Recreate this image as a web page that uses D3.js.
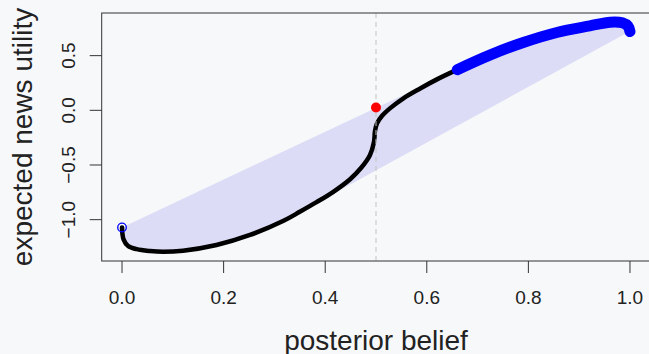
<!DOCTYPE html>
<html>
<head>
<meta charset="utf-8">
<script src="https://cdn.jsdelivr.net/npm/d3@7"></script>
<style>
  html, body { margin: 0; padding: 0; background: #f7f8fa; }
  svg { display: block; font-family: "Liberation Sans", Arial, Helvetica, sans-serif; }
</style>
</head>
<body>
<svg id="chart"></svg>
<script>
// posterior belief (x) and expected news utility (y)
const belief  = [0, 0.003, 0.012, 0.029, 0.055, 0.081, 0.12, 0.186, 0.252, 0.318, 0.35, 0.383, 0.416, 0.449, 0.47, 0.488, 0.496, 0.498, 0.502, 0.512, 0.528, 0.554, 0.587, 0.62, 0.66, 0.724, 0.79, 0.856, 0.921, 0.961, 0.985, 0.996, 1.0];
const utility = [-1.071, -1.18, -1.24, -1.27, -1.287, -1.294, -1.284, -1.232, -1.14, -1.01, -0.928, -0.84, -0.745, -0.63, -0.53, -0.41, -0.29, -0.19, -0.12, -0.05, 0.02, 0.11, 0.2, 0.283, 0.372, 0.505, 0.62, 0.712, 0.772, 0.806, 0.8, 0.77, 0.72];

const prior = 0.5;
const priorValue = 0.025;
const blueFrom = 0.66;

const xTicks = [0, 0.2, 0.4, 0.6, 0.8, 1.0];
const yTicks = [-1.0, -0.5, 0.0, 0.5];

const W = 649, H = 354;
const plot = { left: 101.7, right: 650.3, top: 13, bottom: 261 };

const svg = d3.select("#chart").attr("width", W).attr("height", H);

// R style 4% padding on the data range
function pad(ext) {
  const d = (ext[1] - ext[0]) * 0.04;
  return [ext[0] - d, ext[1] + d];
}

const x = d3.scaleLinear().domain(pad(d3.extent(belief))).range([plot.left, plot.right]);
const y = d3.scaleLinear().domain(pad(d3.extent(utility))).range([plot.bottom, plot.top]);

const pts = belief.map((b, i) => [b, utility[i]]);

const line = d3.line()
  .x(d => x(d[0]))
  .y(d => y(d[1]))
  .curve(d3.curveCatmullRom.alpha(0.5));

// sample the smoothed curve so the hull follows it
const tmp = svg.append("path").attr("d", line(pts)).attr("fill", "none");
const node = tmp.node();
const len = node.getTotalLength();
const dense = [];
for (let s = 0; s <= len; s += 1) {
  const p = node.getPointAtLength(s);
  dense.push([p.x, p.y]);
}
tmp.remove();

const hull = d3.polygonHull(dense);

const g = svg.append("g");

g.append("path")
  .attr("d", "M" + hull.join("L") + "Z")
  .attr("fill", "#dcdcf6")
  .attr("stroke", "none");

g.append("path")
  .attr("d", line(pts))
  .attr("fill", "none")
  .attr("stroke", "#000")
  .attr("stroke-width", 4.5)
  .attr("stroke-linecap", "round")
  .attr("stroke-linejoin", "round");

g.append("line")
  .attr("x1", x(prior)).attr("x2", x(prior))
  .attr("y1", plot.top).attr("y2", plot.bottom)
  .attr("stroke", "#c4c4c4")
  .attr("stroke-width", 1)
  .attr("stroke-dasharray", "5,4");

g.append("path")
  .attr("d", line(pts.filter(d => d[0] >= blueFrom)))
  .attr("fill", "none")
  .attr("stroke", "#0000ff")
  .attr("stroke-width", 11)
  .attr("stroke-linecap", "round")
  .attr("stroke-linejoin", "round");

g.append("circle")
  .attr("cx", x(belief[0])).attr("cy", y(utility[0]))
  .attr("r", 4.3)
  .attr("fill", "none")
  .attr("stroke", "#0000ff")
  .attr("stroke-width", 1.3);

g.append("circle")
  .attr("cx", x(prior)).attr("cy", y(priorValue))
  .attr("r", 5)
  .attr("fill", "#ff0000");

// box
svg.append("rect")
  .attr("x", plot.left).attr("y", plot.top)
  .attr("width", plot.right - plot.left).attr("height", plot.bottom - plot.top)
  .attr("fill", "none").attr("stroke", "#333").attr("stroke-width", 1);

// x axis
const xAxis = svg.append("g");
xAxis.selectAll("line").data(xTicks).enter().append("line")
  .attr("x1", d => x(d)).attr("x2", d => x(d))
  .attr("y1", plot.bottom).attr("y2", plot.bottom + 12)
  .attr("stroke", "#333");
xAxis.selectAll("text").data(xTicks).enter().append("text")
  .attr("x", d => x(d)).attr("y", 304)
  .attr("text-anchor", "middle")
  .attr("font-size", 19)
  .attr("fill", "#222")
  .text(d => d3.format(".1f")(d));

// y axis
const yAxis = svg.append("g");
yAxis.selectAll("line").data(yTicks).enter().append("line")
  .attr("x1", plot.left - 12).attr("x2", plot.left)
  .attr("y1", d => y(d)).attr("y2", d => y(d))
  .attr("stroke", "#333");
yAxis.selectAll("text").data(yTicks).enter().append("text")
  .attr("transform", d => `translate(75,${y(d)}) rotate(-90)`)
  .attr("text-anchor", "middle")
  .attr("font-size", 19)
  .attr("fill", "#222")
  .text(d => d3.format(".1f")(d).replace("-", "\u2212"));

svg.append("text")
  .attr("x", (plot.left + plot.right) / 2).attr("y", 350)
  .attr("text-anchor", "middle")
  .attr("font-size", 28)
  .attr("fill", "#222")
  .text("posterior belief");

svg.append("text")
  .attr("transform", `translate(32,${(plot.top + plot.bottom) / 2}) rotate(-90)`)
  .attr("text-anchor", "middle")
  .attr("font-size", 28)
  .attr("fill", "#222")
  .text("expected news utility");
</script>
</body>
</html>
